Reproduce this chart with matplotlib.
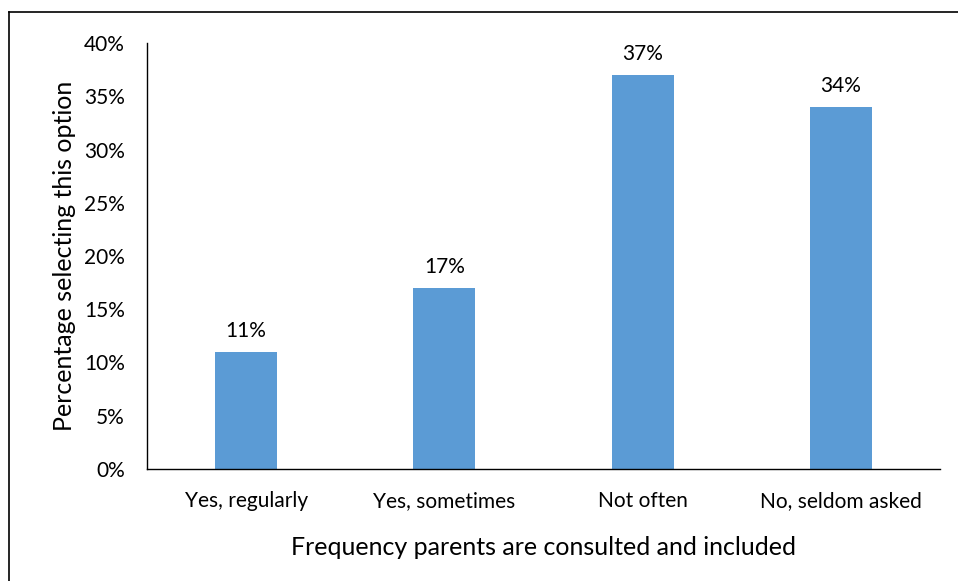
import matplotlib.pyplot as plt
from matplotlib.lines import Line2D

categories = ["Yes, regularly", "Yes, sometimes", "Not often", "No, seldom asked"]
percentages = [11, 17, 37, 34]
y_ticks = [0, 5, 10, 15, 20, 25, 30, 35, 40]

plt.rcParams['font.family'] = ['Lato', 'DejaVu Sans']

fig = plt.figure(figsize=(9.58, 5.81), dpi=100)
ax = fig.add_axes([147 / 958, 1 - 469 / 581, (940 - 147) / 958, (469 - 43) / 581])

x = range(len(categories))
bars = ax.bar(x, percentages, width=0.313, color='#5B9BD5')
for b, v in zip(bars, percentages):
    ax.annotate(f"{v}%", (b.get_x() + b.get_width() / 2, v), xytext=(0, 8),
                textcoords='offset points', ha='center', va='bottom', fontsize=15)

ax.set_xlim(-0.5, len(categories) - 0.5)
ax.set_ylim(0, 40)
ax.set_yticks(y_ticks)
ax.set_yticklabels([f"{t}%" for t in y_ticks], fontsize=15)
ax.set_xticks(list(x))
ax.set_xticklabels(categories, fontsize=15)
ax.tick_params(length=0)
ax.tick_params(axis='y', pad=16)
ax.tick_params(axis='x', pad=16)

for s in ['top', 'right']:
    ax.spines[s].set_visible(False)
ax.spines['left'].set_linewidth(1.0)
ax.spines['bottom'].set_linewidth(1.0)

ax.set_ylabel("Percentage selecting this option", fontsize=18, labelpad=6)
ax.set_xlabel("Frequency parents are consulted and included", fontsize=18, labelpad=18)

# frame lines visible at left and top of the image
fig.add_artist(Line2D([9 / 958, 9 / 958], [0, 1 - 12 / 581], color='black', lw=1.2,
                      transform=fig.transFigure))
fig.add_artist(Line2D([9 / 958, 1], [1 - 12 / 581, 1 - 12 / 581], color='black', lw=1.2,
                      transform=fig.transFigure))

fig.savefig("out.png", dpi=100)
